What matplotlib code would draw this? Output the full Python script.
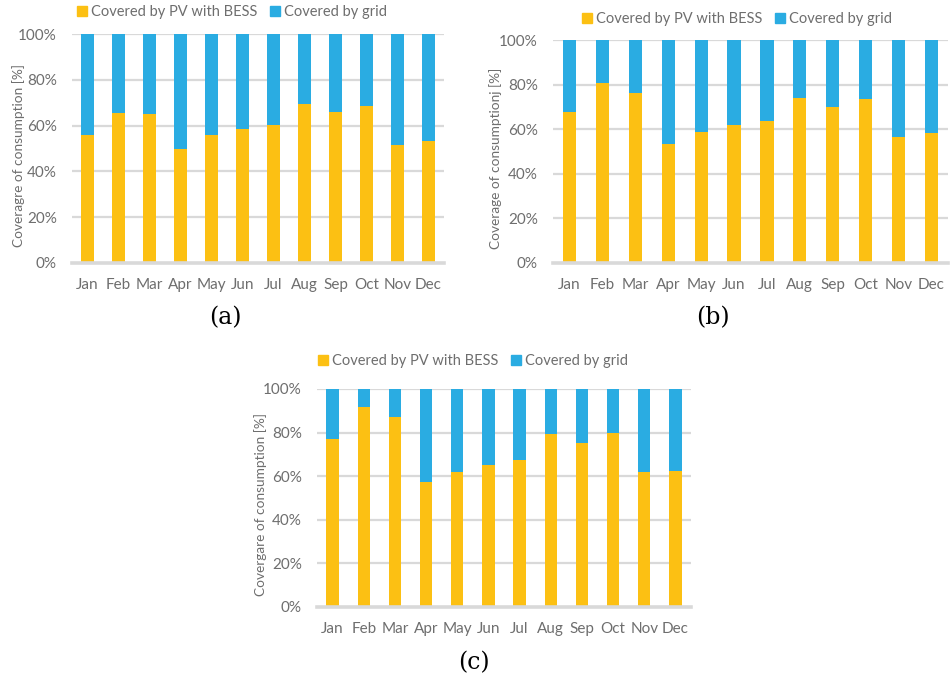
import matplotlib
matplotlib.use("Agg")
import matplotlib.pyplot as plt
from matplotlib.patches import Patch
import numpy as np

months = ["Jan", "Feb", "Mar", "Apr", "May", "Jun",
          "Jul", "Aug", "Sep", "Oct", "Nov", "Dec"]

# Share of monthly consumption covered by PV + battery storage [%]
pv_a = [56.1, 65.7, 65.0, 50.0, 55.8, 58.7, 60.3, 69.3, 65.8, 68.5, 51.5, 53.2]
pv_b = [67.9, 80.6, 76.1, 53.3, 58.7, 61.8, 63.6, 74.0, 70.1, 73.6, 56.6, 58.4]
pv_c = [77.1, 91.9, 87.2, 57.3, 61.8, 65.2, 67.6, 79.5, 75.1, 80.0, 62.0, 62.3]

ylabels = ["Coveragre of consumption [%]",
           "Coverage of consumptionj [%]",
           "Covergare of consumption [%]"]
panel_tags = ["(a)", "(b)", "(c)"]
series_names = ["Covered by PV with BESS", "Covered by grid"]
yticks = [0, 20, 40, 60, 80, 100]

ORANGE = "#FCC013"
BLUE = "#2AACE2"
GRID = "#D9D9D9"
TEXT = "#6E6E6E"

plt.rcParams["font.family"] = ["Lato", "DejaVu Sans"]

W, H = 950, 683
fig = plt.figure(figsize=(W / 100, H / 100), dpi=100)

# pixel boxes: left, right, top, bottom of each plot area
boxes = [(72, 444, 34, 263), (553, 948, 40, 263), (317, 691, 389, 607)]
legend_pos = [(232, 12), (737, 19), (473, 361)]
tag_pos = [(225, 318), (713, 318), (474, 663)]
ylabel_x = [25, 502, 267]


def add_panel(pv, box, ylab, lpos, tpos, ylx, tag):
    l, r, t, b = box
    ax = fig.add_axes([l / W, 1 - b / H, (r - l) / W, (b - t) / H])
    x = np.arange(len(months))
    pv = np.array(pv)
    grid = 100 - pv
    ax.bar(x, pv, width=0.4, color=ORANGE, zorder=3)
    ax.bar(x, grid, bottom=pv, width=0.4, color=BLUE, zorder=3)
    ax.set_xlim(-0.5, len(months) - 0.5)
    ax.set_ylim(0, 100)
    ax.set_yticks(yticks)
    ax.set_yticklabels([f"{v}%" for v in yticks])
    ax.set_xticks(x)
    ax.set_xticklabels(months)
    ax.tick_params(length=0, labelsize=11, colors=TEXT, pad=11)
    ax.tick_params(axis="x", pad=11)
    for v in yticks[1:]:
        ax.axhline(v, color=GRID, lw=1.6, zorder=1)
    for s in ["top", "right", "left"]:
        ax.spines[s].set_visible(False)
    ax.spines["bottom"].set_color(GRID)
    ax.spines["bottom"].set_linewidth(2.6)
    ax.spines["bottom"].set_zorder(4)
    ax.set_ylabel(ylab, fontsize=9.8, color=TEXT)
    ax.yaxis.set_label_coords((ylx - l) / (r - l), 0.47)
    handles = [Patch(color=ORANGE), Patch(color=BLUE)]
    fig.legend(handles, series_names, loc="center",
               bbox_to_anchor=(lpos[0] / W, 1 - lpos[1] / H),
               ncol=2, frameon=False, fontsize=10.5, labelcolor=TEXT,
               handlelength=0.7, handleheight=0.7, handletextpad=0.3,
               columnspacing=0.8, borderaxespad=0, borderpad=0)
    fig.text(tpos[0] / W, 1 - tpos[1] / H, tag, ha="center", va="center",
             fontsize=17, family="DejaVu Serif", color="black")


for pv, box, ylab, lpos, tpos, ylx, tag in zip(
        [pv_a, pv_b, pv_c], boxes, ylabels, legend_pos, tag_pos,
        ylabel_x, panel_tags):
    add_panel(pv, box, ylab, lpos, tpos, ylx, tag)

fig.savefig("out.png", dpi=100, facecolor="white")
